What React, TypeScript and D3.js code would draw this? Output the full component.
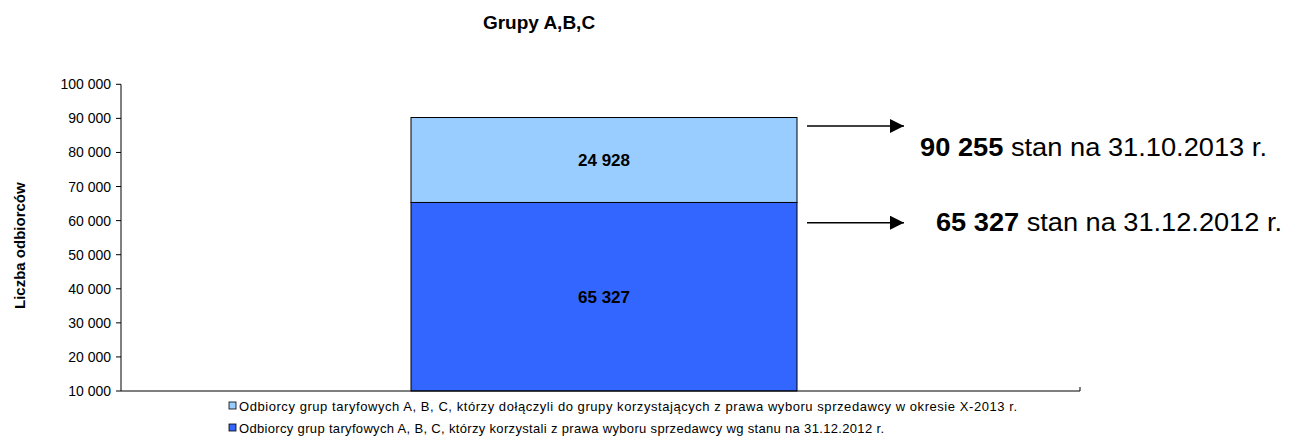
import React from 'react'
import * as d3 from 'd3'

const categories = ['Grupy A,B,C']
const seriesNames = [
  'Odbiorcy grup taryfowych A, B, C, którzy korzystali z prawa wyboru sprzedawcy wg stanu na 31.12.2012 r.',
  'Odbiorcy grup taryfowych A, B, C, którzy dołączyli do grupy korzystających z  prawa wyboru sprzedawcy w okresie X-2013 r.',
]
const baseValues = [65327]
const addedValues = [24928]
const seriesColors = ['#3366ff', '#99ccff']
const yTicks = [10000, 20000, 30000, 40000, 50000, 60000, 70000, 80000, 90000, 100000]
const notes = [
  { value: 90255, bold: '90 255', rest: ' stan na 31.10.2013 r.' },
  { value: 65327, bold: '65 327', rest: ' stan na 31.12.2012 r.' },
]

const W = 1294
const H = 441
const font = 'Arial, "Liberation Sans", sans-serif'

const fmt = (v: number) => d3.format(',')(v).replace(/,/g, ' ')

export default function App() {
  const left = 121
  const right = 1080
  const top = 84.3
  const bottom = 391

  const y = d3.scaleLinear().domain([10000, 100000]).range([bottom, top])
  // excel plot area is a bit wider than the visible axis line
  const x = d3.scaleBand().domain(['', ...categories, ' ']).range([left, 1087]).padding(0)
  const bw = 386
  const stacked = d3.stack<any>().keys(['base', 'added'])(
    categories.map((c, i) => ({ cat: c, base: baseValues[i], added: addedValues[i] }))
  )

  const arrowY = [126, 222.7]
  const textY = [156, 231]
  const textX = [920, 936]
  const textLen = [347, 346]
  const legendLen = [645, 778]

  return (
    <svg width={W} height={H} style={{ position: 'absolute', left: 0, top: 0 }}>
      <defs>
        <marker id="ah" viewBox="0 0 10 10" refX="10" refY="5" markerWidth="17" markerHeight="14" markerUnits="userSpaceOnUse" orient="auto">
          <path d="M0,0 L10,5 L0,10 z" fill="#000" />
        </marker>
      </defs>
      <rect width={W} height={H} fill="#fff" />
      <text x={539} y={29} textAnchor="middle" fontFamily={font} fontWeight="bold" fontSize={19}>
        {categories[0]}
      </text>
      <text
        transform={`translate(25,${(top + bottom) / 2 + 8}) rotate(-90)`}
        textAnchor="middle"
        fontFamily={font}
        fontWeight="bold"
        fontSize={15}
      >
        Liczba odbiorców
      </text>

      {stacked.map((s, si) =>
        s.map((d, i) => {
          const cx = (x(categories[i]) as number) + x.bandwidth() / 2
          const y0 = y(Math.max(d[0], 10000))
          const y1 = y(d[1])
          return (
            <g key={si + '-' + i}>
              <rect x={cx - bw / 2} y={y1} width={bw} height={y0 - y1} fill={seriesColors[si]} stroke="#000" strokeWidth={1} />
              <text x={cx} y={(y0 + y1) / 2 + 6} textAnchor="middle" fontFamily={font} fontWeight="bold" fontSize={17}>
                {fmt(si === 0 ? baseValues[i] : addedValues[i])}
              </text>
            </g>
          )
        })
      )}

      <line x1={left} x2={left} y1={top} y2={bottom} stroke="#000" />
      <line x1={left} x2={right} y1={bottom} y2={bottom} stroke="#000" />
      <line x1={right} x2={right} y1={bottom} y2={bottom - 4} stroke="#000" />
      {yTicks.map((t) => (
        <g key={t}>
          <line x1={left - 5} x2={left} y1={y(t)} y2={y(t)} stroke="#000" />
          <text x={111} y={y(t) + 5} textAnchor="end" fontFamily={font} fontSize={14}>
            {fmt(t)}
          </text>
        </g>
      ))}

      {notes.map((n, i) => (
        <g key={n.bold}>
          <line x1={807} x2={904} y1={arrowY[i]} y2={arrowY[i]} stroke="#000" strokeWidth={1.5} markerEnd="url(#ah)" />
          <text x={textX[i]} y={textY[i]} fontFamily={font} fontSize={25} textLength={textLen[i]} lengthAdjust="spacingAndGlyphs">
            <tspan fontWeight="bold">{n.bold}</tspan>
            {n.rest}
          </text>
        </g>
      ))}

      {[1, 0].map((si, k) => (
        <g key={si} transform={`translate(229,${402 + k * 22})`}>
          <rect x={0} y={0} width={7} height={7} fill={seriesColors[si]} stroke="#000" strokeWidth={0.8} />
          <text x={10} y={8.5} fontFamily={font} fontSize={13} textLength={legendLen[si]} lengthAdjust="spacing">
            {seriesNames[si]}
          </text>
        </g>
      ))}
    </svg>
  )
}
